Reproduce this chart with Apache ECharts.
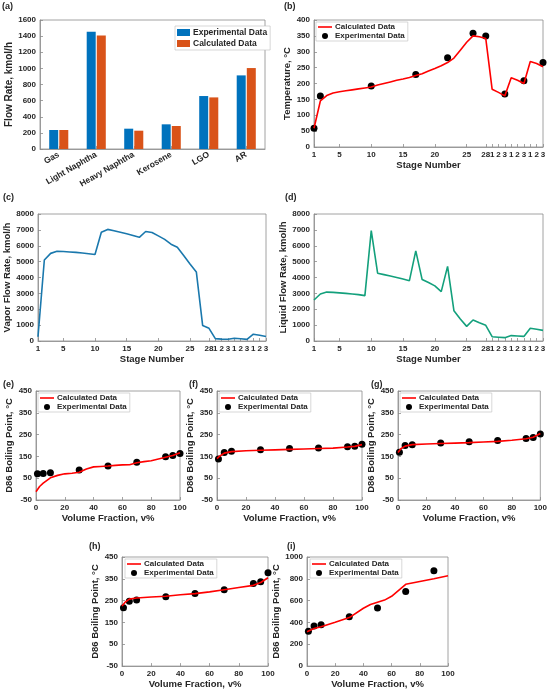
<!DOCTYPE html>
<html>
<head>
<meta charset="utf-8">
<script src="https://cdn.jsdelivr.net/npm/echarts@6.0.0/dist/echarts.min.js"></script>
<style>
    html, body { margin: 0; padding: 0; background: #fff; }
    #main { width: 550px; height: 690px; }
</style>
</head>
<body>
<div id="main"></div>
<script>
// (a) product flow rates, kmol/h
var products = ['Gas', 'Light Naphtha', 'Heavy Naphtha', 'Kerosene', 'LGO', 'AR'];
var flowExp = [236, 1455, 252, 306, 657, 913];
var flowCalc = [236, 1409, 227, 285, 640, 1004];

// stage axis: 28 column stages + 3 side strippers x 3 stages
var stageTickPos = [1, 5, 10, 15, 20, 25, 28, 29, 30, 31, 32, 33, 34, 35, 36, 37];
var stageTickLabels = ['1', '5', '10', '15', '20', '25', '28', '1', '2', '3', '1', '2', '3', '1', '2', '3'];

// (b) temperature profile, one value per stage position
var tempCalc = [59, 145, 162, 170, 174, 177, 180, 183, 186, 189, 195, 200, 205, 210, 214, 219, 225, 231, 239,
    247, 256, 266, 280, 305, 330, 350, 347, 342, 182, 172, 161, 218, 210, 200, 269, 263, 253];
var tempExpStage = [1, 2, 10, 17, 22, 26, 28, 31, 34, 37];
var tempExp = [59, 161, 192, 228, 281, 358, 350, 167, 209, 266];

// (c) vapour and (d) liquid flow per stage position
var vaporFlow = [270, 5100, 5520, 5650, 5640, 5610, 5580, 5540, 5500, 5450, 6850, 7030, 6940, 6850, 6750, 6650,
    6530, 6900, 6830, 6620, 6400, 6100, 5900, 5380, 4850, 4350, 970, 800, 150, 120, 110, 170, 140, 100, 430, 360, 280];
var liquidFlow = [2580, 2960, 3080, 3060, 3030, 3000, 2960, 2920, 2860, 6950, 4270, 4180, 4090, 4000, 3900, 3800,
    5680, 3870, 3680, 3470, 3110, 4700, 1900, 1380, 920, 1320, 1150, 990, 270, 240, 210, 340, 315, 290, 800, 740, 670];

// (e)-(i) D86 curves
var volExp = [1, 5, 10, 30, 50, 70, 90, 95, 100];
var eCalcX = [0, 2.5, 5, 10, 15, 20, 25, 30, 35, 40, 45, 50, 55, 60, 65, 70, 75, 80, 85, 90, 95, 100];
var eCalc = [-12, 12, 27, 52, 63, 70, 73, 77, 92, 102, 104, 106, 109, 111, 112, 121, 126, 130, 138, 146, 154, 167];
var eExp = [70, 72, 75, 88, 106, 123, 148, 154, 163];
var fCalcX = [0, 2, 5, 10, 20, 30, 40, 50, 60, 70, 80, 90, 95, 100];
var fCalc = [140, 152, 165, 172, 176, 178, 180, 182, 184, 186, 188, 193, 196, 204];
var fExp = [138, 168, 174, 181, 186, 189, 194, 197, 206];
var gCalcX = [0, 2, 5, 10, 20, 30, 40, 50, 60, 70, 80, 90, 95, 100];
var gCalc = [168, 185, 197, 204, 207, 209, 211, 213, 216, 219, 224, 231, 238, 255];
var gExp = [169, 200, 204, 212, 217, 223, 232, 237, 253];
var hCalcX = [0, 2, 5, 10, 20, 30, 40, 50, 60, 70, 80, 90, 95, 100];
var hCalc = [225, 242, 257, 262, 267, 270, 277, 282, 290, 300, 310, 320, 333, 355];
var hExp = [217, 247, 253, 268, 283, 300, 328, 337, 378];
var iCalcX = [0, 5, 10, 20, 30, 40, 45, 55, 60, 70, 80, 90, 100];
var iCalc = [315, 345, 360, 402, 445, 530, 565, 605, 640, 750, 775, 800, 828];
var iExpX = [1, 5, 10, 30, 50, 70, 90];
var iExp = [320, 368, 380, 453, 533, 683, 875];

var d86Ticks = [-50, 50, 150, 250, 350, 450];

var FONT = 'Liberation Sans, Arial, sans-serif';
var TXT = '#262626';
var AX = '#8c8c8c';
// thin horizontal bar; the two stray move-to points keep the full icon box so it is not stretched
var LINE_ICON = 'path://M0,0L0,0M0,6L0,6M0,2.2L14,2.2L14,3.8L0,3.8Z';

function pairs(xs, ys) {
    var out = [];
    for (var i = 0; i < ys.length; i++) {
        out.push([xs[i], ys[i]]);
    }
    return out;
}
function byStage(ys) {
    var out = [];
    for (var i = 0; i < ys.length; i++) {
        out.push([i + 1, ys[i]]);
    }
    return out;
}

function grid(l, t, w, h) {
    return { left: l, top: t, width: w, height: h, show: true, borderColor: AX, borderWidth: 0.8, backgroundColor: '#fff' };
}

function valAxis(gi, min, max, interval, extra) {
    var ax = {
        type: 'value', gridIndex: gi, min: min, max: max, interval: interval,
        axisLine: { show: true, onZero: false, lineStyle: { color: AX, width: 0.8 } },
        axisTick: { show: true, inside: true, length: 3, lineStyle: { color: AX, width: 0.8 } },
        axisLabel: { fontSize: 8, fontWeight: 'bold', color: TXT, fontFamily: FONT, margin: 4,
            formatter: function (v) { return '' + v; } },
        splitLine: { show: false },
        nameTextStyle: { fontSize: 9.5, fontWeight: 'bold', color: TXT, fontFamily: FONT },
        nameLocation: 'middle'
    };
    for (var k in extra) {
        if (k === 'axisLabel' || k === 'axisTick') {
            for (var j in extra[k]) ax[k][j] = extra[k][j];
        } else {
            ax[k] = extra[k];
        }
    }
    return ax;
}

function stageAxis(gi) {
    return valAxis(gi, 1, 37, 1, {
        name: 'Stage Number', nameGap: 11,
        axisLabel: { customValues: stageTickPos, formatter: function (v) {
            var i = stageTickPos.indexOf(v);
            return i < 0 ? '' : stageTickLabels[i];
        } },
        axisTick: { customValues: stageTickPos }
    });
}

function d86X(gi) {
    return valAxis(gi, 0, 100, 20, { name: 'Volume Fraction, v%', nameGap: 11 });
}
function d86Y(gi) {
    return valAxis(gi, -50, 450, 50, {
        name: 'D86 Boiling Point, °C', nameGap: 22,
        axisLabel: { customValues: d86Ticks },
        axisTick: { customValues: d86Ticks }
    });
}

var legendNames = {};
function calcLine(id, gi, data) {
    legendNames[id] = 'Calculated Data';
    return { name: id, type: 'line', xAxisIndex: gi, yAxisIndex: gi, data: data, symbol: 'none',
        lineStyle: { color: '#ff0000', width: 1.6 }, itemStyle: { color: '#ff0000' } };
}
function expDots(id, gi, data) {
    legendNames[id] = 'Experimental Data';
    return { name: id, type: 'scatter', xAxisIndex: gi, yAxisIndex: gi, data: data, symbolSize: 7,
        itemStyle: { color: '#000', opacity: 1 } };
}
function lineLegend(calcId, expId, left, top) {
    return {
        left: left, top: top, orient: 'vertical', itemWidth: 14, itemHeight: 6, itemGap: 1,
        padding: [1, 3, 1, 2], borderColor: '#bdbdbd', borderWidth: 0.6, backgroundColor: '#fff',
        data: [{ name: calcId, icon: LINE_ICON }, { name: expId, icon: 'circle' }],
        formatter: function (n) { return legendNames[n]; },
        textStyle: { fontSize: 8, fontWeight: 'bold', color: TXT, fontFamily: FONT, padding: [0, 0, 0, -2] }
    };
}

function label(t, l, top) {
    return { text: t, left: l, top: top, padding: 0,
        textStyle: { fontSize: 9, fontWeight: 'bold', color: TXT, fontFamily: FONT } };
}

var myChart = echarts.init(document.getElementById('main'));

var xAxes = [], yAxes = [], series = [];

// (a)
xAxes.push({
    type: 'category', gridIndex: 0, data: products,
    axisLine: { show: true, lineStyle: { color: AX, width: 0.8 } },
    axisTick: { show: true, inside: true, length: 3, alignWithLabel: true, lineStyle: { color: AX, width: 0.8 } },
    axisLabel: { rotate: 30, fontSize: 8.5, fontWeight: 'bold', color: TXT, fontFamily: FONT, margin: 5, interval: 0 }
});
yAxes.push(valAxis(0, 0, 1600, 200, { name: 'Flow Rate, kmol/h', nameGap: 21,
    nameTextStyle: { fontSize: 10, fontWeight: 'bold', color: TXT, fontFamily: FONT } }));
series.push({ name: 'a_exp', type: 'bar', xAxisIndex: 0, yAxisIndex: 0, data: flowExp, barWidth: 9, barGap: '12%',
    itemStyle: { color: '#0072BD' } });
series.push({ name: 'a_calc', type: 'bar', xAxisIndex: 0, yAxisIndex: 0, data: flowCalc, barWidth: 9,
    itemStyle: { color: '#D95319' } });
legendNames['a_exp'] = 'Experimental Data';
legendNames['a_calc'] = 'Calculated Data';

// (b)
xAxes.push(stageAxis(1));
yAxes.push(valAxis(1, 0, 400, 50, { name: 'Temperature, °C', nameGap: 16 }));
series.push(calcLine('b_calc', 1, byStage(tempCalc)));
series.push(expDots('b_exp', 1, pairs(tempExpStage, tempExp)));

// (c)
xAxes.push(stageAxis(2));
yAxes.push(valAxis(2, 0, 8000, 1000, { name: 'Vapor Flow Rate, kmol/h', nameGap: 18 }));
series.push({ name: 'c_vap', type: 'line', xAxisIndex: 2, yAxisIndex: 2, data: byStage(vaporFlow), symbol: 'none',
    lineStyle: { color: '#1a78ad', width: 1.6 } });

// (d)
xAxes.push(stageAxis(3));
yAxes.push(valAxis(3, 0, 8000, 1000, { name: 'Liquid Flow Rate, kmol/h', nameGap: 18 }));
series.push({ name: 'd_liq', type: 'line', xAxisIndex: 3, yAxisIndex: 3, data: byStage(liquidFlow), symbol: 'none',
    lineStyle: { color: '#13a07c', width: 1.6 } });

// (e)-(h)
var d86 = [
    ['e', eCalcX, eCalc, volExp, eExp],
    ['f', fCalcX, fCalc, volExp, fExp],
    ['g', gCalcX, gCalc, volExp, gExp],
    ['h', hCalcX, hCalc, volExp, hExp]
];
for (var p = 0; p < d86.length; p++) {
    var gi = 4 + p;
    xAxes.push(d86X(gi));
    yAxes.push(d86Y(gi));
    series.push(calcLine(d86[p][0] + '_calc', gi, pairs(d86[p][1], d86[p][2])));
    series.push(expDots(d86[p][0] + '_exp', gi, pairs(d86[p][3], d86[p][4])));
}

// (i)
xAxes.push(d86X(8));
yAxes.push(valAxis(8, 0, 1000, 200, { name: 'D86 Boiling Point, °C', nameGap: 22 }));
series.push(calcLine('i_calc', 8, pairs(iCalcX, iCalc)));
series.push(expDots('i_exp', 8, pairs(iExpX, iExp)));

var option = {
    animation: false,
    backgroundColor: '#fff',
    textStyle: { fontFamily: FONT },
    title: [
        label('(a)', 2, 2), label('(b)', 284, 2),
        label('(c)', 3, 193), label('(d)', 285, 193),
        label('(e)', 3, 380), label('(f)', 189, 380), label('(g)', 371, 380),
        label('(h)', 89, 542), label('(i)', 287, 542)
    ],
    grid: [
        grid(40, 20, 225, 129),
        grid(314, 20, 229, 127),
        grid(38, 214, 228, 127),
        grid(314, 214, 229, 127),
        grid(36, 391, 144, 109),
        grid(217, 391, 145, 109),
        grid(398, 391, 144, 109),
        grid(122, 557, 146, 111),
        grid(307, 557, 141, 110)
    ],
    xAxis: xAxes,
    yAxis: yAxes,
    legend: [
        {
            left: 175, top: 26, orient: 'vertical', itemWidth: 13, itemHeight: 7, itemGap: 2,
            padding: [2, 3, 2, 2], borderColor: '#bdbdbd', borderWidth: 0.6, backgroundColor: '#fff',
            data: [{ name: 'a_exp', icon: 'rect' }, { name: 'a_calc', icon: 'rect' }],
            formatter: function (n) { return legendNames[n]; },
            textStyle: { fontSize: 8.5, fontWeight: 'bold', color: TXT, fontFamily: FONT, padding: [0, 0, 0, -2] }
        },
        lineLegend('b_calc', 'b_exp', 316, 22),
        lineLegend('e_calc', 'e_exp', 38, 393),
        lineLegend('f_calc', 'f_exp', 219, 393),
        lineLegend('g_calc', 'g_exp', 400, 393),
        lineLegend('h_calc', 'h_exp', 125, 559),
        lineLegend('i_calc', 'i_exp', 310, 559)
    ],
    series: series
};
myChart.setOption(option);
</script>
</body>
</html>
